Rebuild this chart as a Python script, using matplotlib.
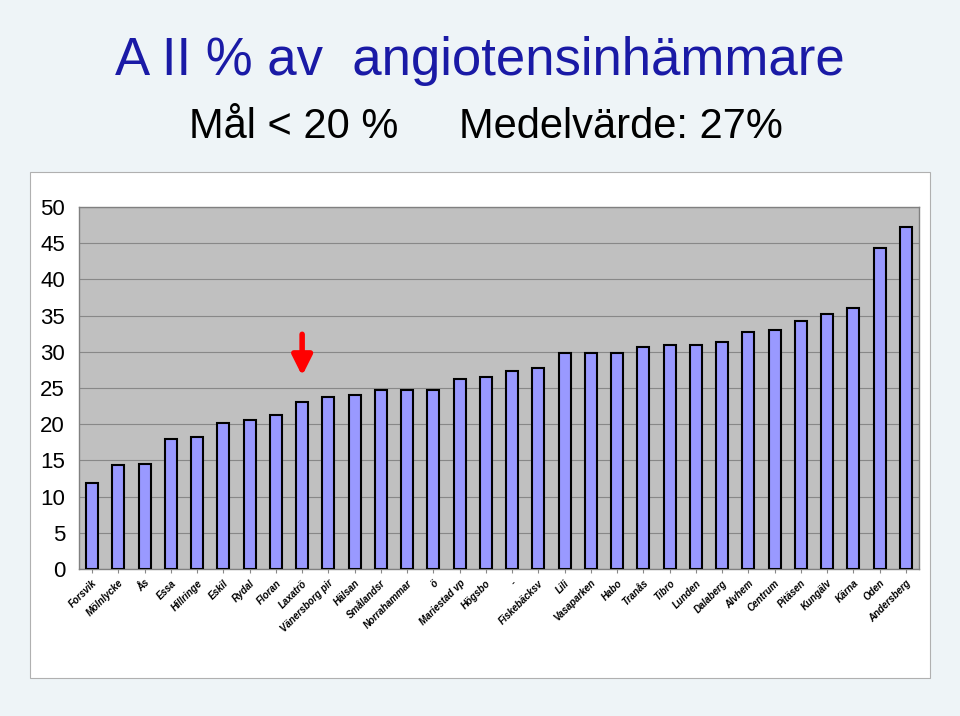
import matplotlib.pyplot as plt
from matplotlib.patches import Rectangle

plt.rcParams["font.family"] = ["Liberation Sans", "DejaVu Sans"]

# vårdcentraler (labels are tiny and blurry in the original, read as best as possible)
units = ["Forsvik", "Mölnlycke", "Ås", "Essa", "Hillringe", "Eskil", "Rydal",
         "Floran", "Laxatrö", "Vänersborg pir", "Hälsan", "Smålandsr",
         "Norrahammar", "ö", "Mariestad vp", "Högsbo", "-", "Fiskebäcksv",
         "Lili", "Vasaparken", "Habo", "Tranås", "Tibro", "Lunden",
         "Dalaberg", "Alvhem", "Centrum", "Pitäsen", "Kungälv", "Kärna",
         "Oden", "Andersberg"]
aii_pct = [11.9, 14.3, 14.5, 17.9, 18.3, 20.1, 20.6, 21.3, 23.1, 23.8,
           24.0, 24.7, 24.7, 24.7, 26.3, 26.5, 27.4, 27.8, 29.8, 29.8,
           29.9, 30.6, 30.9, 31.0, 31.4, 32.7, 33.0, 34.2, 35.2, 36.0,
           44.3, 47.2]
yticks = list(range(0, 51, 5))

fig = plt.figure(figsize=(9.6, 7.16), dpi=100)
fig.patch.set_facecolor("#eef4f7")

# white chart box
fig.patches.append(Rectangle((0.031, 0.053), 0.938, 0.707, transform=fig.transFigure,
                             facecolor="white", edgecolor="#b0b0b0", lw=0.8, zorder=0))

ax = fig.add_axes([0.0823, 0.2053, 0.875, 0.5056])
ax.set_zorder(2)
ax.set_facecolor("#c0c0c0")
x = range(len(units))
ax.bar(x, aii_pct, width=0.46, color="#9999ff", edgecolor="black", linewidth=1.5, zorder=3)

ax.set_ylim(0, 50)
ax.set_xlim(-0.5, len(units) - 0.5)
ax.set_yticks(yticks)
ax.set_yticklabels([str(t) for t in yticks], fontsize=16)
ax.yaxis.grid(True, color="#888888", lw=0.8, zorder=1)
ax.set_axisbelow(True)
ax.tick_params(axis="y", length=0, pad=10)
ax.tick_params(axis="x", length=3, color="#888888")
ax.set_xticks(list(x))
ax.set_xticklabels(units, rotation=45, ha="right", va="top", fontsize=7,
                   fontstyle="italic", fontweight="bold", rotation_mode="anchor")
for s in ax.spines.values():
    s.set_color("#808080")
    s.set_linewidth(1)

# red arrow above bar 9
ax.annotate("", xy=(8, 26.3), xytext=(8, 32.8),
            arrowprops=dict(arrowstyle="-|>", color="#ff0000", lw=4,
                            mutation_scale=30), zorder=5)

fig.text(0.12, 0.915, "A II % av  angiotensinhämmare", fontsize=38,
         color="#1a1aa6", va="center", ha="left")
fig.text(0.197, 0.822, "Mål < 20 %", fontsize=30, va="center", ha="left")
fig.text(0.478, 0.822, "Medelvärde: 27%", fontsize=30, va="center", ha="left")

fig.savefig("out.png", dpi=100, facecolor=fig.get_facecolor())
